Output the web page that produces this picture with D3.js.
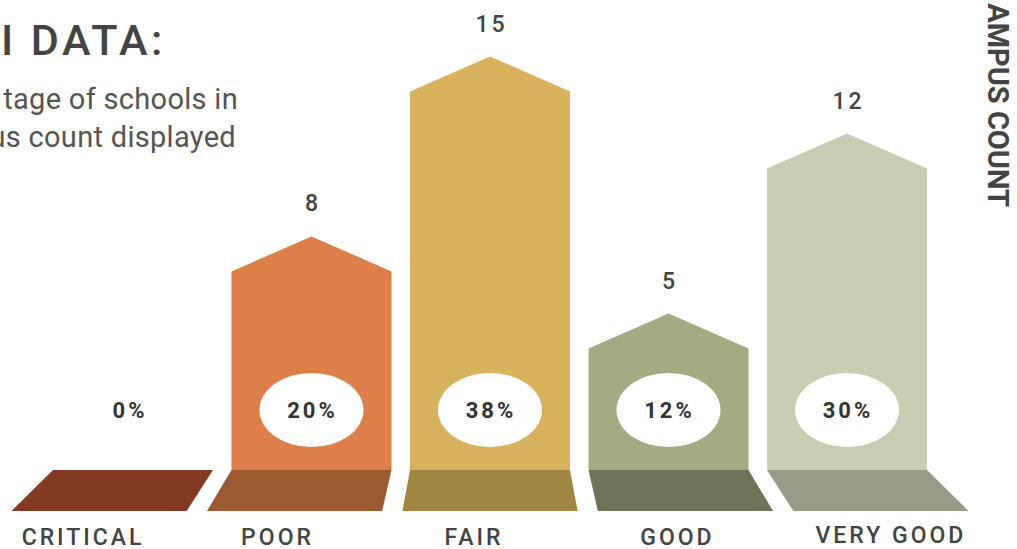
<!DOCTYPE html>
<html><head><meta charset="utf-8">
<script src="https://cdn.jsdelivr.net/npm/d3@7"></script>
<style>
html,body{margin:0;padding:0;background:#fff;overflow:hidden;}
svg{display:block;font-family:Roboto,"Noto Sans",sans-serif;}
</style></head>
<body>
<svg id="chart" width="1017" height="549"></svg>
<script>
const categories = ["CRITICAL", "POOR", "FAIR", "GOOD", "VERY GOOD"];
const counts = [0, 8, 15, 5, 12];
const percents = ["0%", "20%", "38%", "12%", "30%"];
const barColors = ["#843a22", "#dd7f48", "#d9b25e", "#a4ab82", "#c8cdb3"];
const baseColors = ["#843a22", "#9c5a32", "#a18542", "#6e7357", "#989b88"];
const titleText = "I DATA:";
const subtitleLines = ["tage of schools in", "us count displayed"];
const axisTitle = "AMPUS COUNT";

const svg = d3.select("#chart");
const x = d3.scaleBand().domain(categories).range([53, 927]).paddingInner(0.1036).paddingOuter(0);
const y = d3.scaleLinear().domain([0, 15]).range([477, 91.5]);
const baseTop = 470, baseBottom = 511, vx = 490, k = 1.095, roof = 35;
const persp = v => vx + (v - vx) * k;

// bases
svg.append("g").selectAll("path").data(categories).join("path")
  .attr("d", c => {
    const a = x(c), b = x(c) + x.bandwidth();
    return `M${a},${baseTop}L${b},${baseTop}L${persp(b)},${baseBottom}L${persp(a)},${baseBottom}Z`;
  })
  .attr("fill", (c, i) => baseColors[i]);

// bars (house shape)
const bars = categories.map((c, i) => ({c, i, v: counts[i]})).filter(d => d.v > 0);
svg.append("g").selectAll("path").data(bars).join("path")
  .attr("d", d => {
    const a = x(d.c), b = a + x.bandwidth(), m = a + x.bandwidth() / 2, s = y(d.v);
    return `M${a},${baseTop}L${a},${s}L${m},${s - roof}L${b},${s}L${b},${baseTop}Z`;
  })
  .attr("fill", d => barColors[d.i]);

// count labels
svg.append("g").selectAll("text").data(bars).join("text")
  .attr("x", d => x(d.c) + x.bandwidth() / 2 + 1.5)
  .attr("y", d => y(d.v) - roof - 25)
  .attr("text-anchor", "middle")
  .attr("font-size", 23).attr("font-weight", 500)
  .attr("letter-spacing", 3).attr("fill", "#444")
  .text(d => d.v);

// percent ellipses
svg.append("g").selectAll("ellipse").data(bars).join("ellipse")
  .attr("cx", d => x(d.c) + x.bandwidth() / 2)
  .attr("cy", 410).attr("rx", 52).attr("ry", 37)
  .attr("fill", "#fff");

svg.append("g").selectAll("text").data(categories).join("text")
  .attr("x", (c, i) => x(c) + x.bandwidth() / 2 + (counts[i] > 0 ? 1 : -3))
  .attr("y", 418)
  .attr("text-anchor", "middle")
  .attr("font-size", 22).attr("font-weight", 700)
  .attr("letter-spacing", 3).attr("fill", "#333")
  .text((c, i) => percents[i]);

// category labels
const labelShift = [-16, -17, -16, -8, 10];
svg.append("g").selectAll("text").data(categories).join("text")
  .attr("x", (c, i) => persp(x(c) + x.bandwidth() / 2) + labelShift[i])
  .attr("y", (c, i) => i === 4 ? 543 : 545)
  .attr("text-anchor", "middle")
  .attr("font-size", 23).attr("font-weight", 500)
  .attr("letter-spacing", 3).attr("fill", "#444")
  .text(c => c);

// title & subtitle
svg.append("text").attr("x", 1).attr("y", 55)
  .attr("font-size", 43).attr("font-weight", 500)
  .attr("letter-spacing", 3.5).attr("fill", "#444").text(titleText);
svg.append("g").selectAll("text").data(subtitleLines).join("text")
  .attr("x", (d, i) => i === 0 ? 238 : 236).attr("y", (d, i) => 109 + i * 38)
  .attr("text-anchor", "end")
  .attr("font-size", 29).attr("font-weight", 400)
  .attr("letter-spacing", 0.3)
  .attr("fill", "#555").text(d => d);

// right axis title
svg.append("text")
  .attr("transform", "translate(988,207) rotate(90)")
  .attr("text-anchor", "end")
  .attr("font-size", 29).attr("font-weight", 700)
  .attr("fill", "#444").text(axisTitle);
</script>
</body></html>
